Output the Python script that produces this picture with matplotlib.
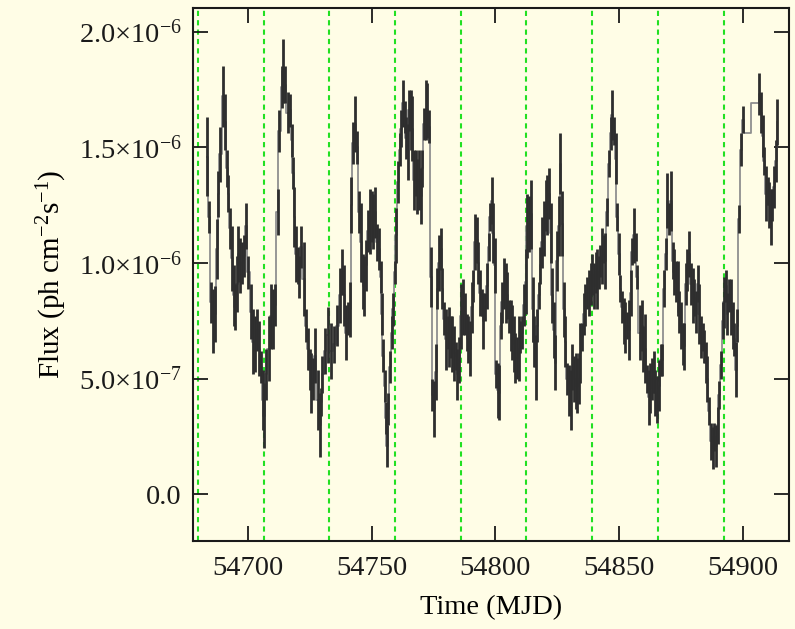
import matplotlib
matplotlib.use("Agg")
import matplotlib.pyplot as plt
import numpy as np

# ---- data (flux in units of 1e-6 ph cm^-2 s^-1) ----
time_mjd = [
    54683.2, 54684.0, 54684.8, 54685.5, 54686.5, 54687.3, 54687.9, 54688.6, 54689.7, 54690.5,
    54691.3, 54691.9, 54692.5, 54693.2, 54694.0, 54694.6, 54695.4, 54696.0, 54696.7, 54697.4,
    54698.1, 54699.0, 54700.0, 54701.0, 54701.9, 54702.7, 54703.5, 54704.3, 54705.1, 54705.8,
    54706.4, 54707.2, 54708.2, 54709.1, 54710.1, 54710.9, 54711.8, 54712.6, 54713.5, 54714.1,
    54714.9, 54715.9, 54716.8, 54717.5, 54718.0, 54718.6, 54719.3, 54719.9, 54720.6, 54721.3,
    54722.4, 54723.3, 54724.1, 54724.9, 54725.5, 54726.1, 54726.8, 54728.0, 54729.0, 54729.5,
    54730.0, 54731.0, 54732.1, 54733.4, 54734.8, 54735.9, 54737.1, 54738.0,
    54738.7, 54739.4, 54740.2, 54741.0, 54741.7, 54742.5, 54743.2, 54744.0, 54744.8, 54745.5,
    54746.2, 54747.0, 54747.8, 54748.5, 54749.3, 54749.9, 54750.6, 54751.3, 54752.0, 54752.8,
    54753.5, 54754.0, 54754.5, 54755.1, 54755.7, 54756.1, 54756.7, 54757.4, 54758.0, 54758.6,
    54759.2, 54759.7, 54760.5, 54761.3, 54761.8, 54762.5, 54763.2, 54763.8, 54764.5, 54765.1,
    54765.7, 54766.4, 54767.1, 54767.7, 54768.4, 54769.1, 54769.8, 54770.4, 54771.1, 54771.8,
    54772.5, 54773.2, 54773.8, 54774.5, 54775.2, 54775.8, 54776.5, 54777.2, 54777.9, 54778.5,
    54779.2, 54779.9, 54780.6, 54781.2, 54781.9, 54782.6, 54783.3, 54784.0, 54784.6, 54785.3,
    54786.0, 54786.9, 54787.6, 54788.3, 54788.9, 54789.7, 54790.4, 54791.1, 54791.8, 54792.5,
    54793.1, 54793.8, 54794.5, 54795.1, 54795.8, 54796.5, 54797.2, 54797.9, 54798.5,
    54799.1, 54799.7, 54800.3, 54800.9, 54801.5, 54802.1, 54802.7, 54803.4, 54804.1, 54804.7,
    54805.4, 54806.1, 54806.8, 54807.4, 54808.1, 54808.8, 54809.5, 54810.1, 54810.8, 54811.5,
    54812.2, 54812.8, 54813.6, 54814.3, 54815.0, 54815.7, 54816.3, 54816.9, 54817.5, 54818.2,
    54818.9, 54819.6, 54820.3, 54820.9, 54821.6, 54822.3, 54823.0, 54823.6, 54824.3, 54825.0,
    54825.7, 54826.3, 54827.0, 54827.7, 54828.3, 54829.0, 54829.7, 54830.4, 54831.0, 54831.7,
    54832.4, 54833.1, 54833.7, 54834.4, 54835.1, 54835.8, 54836.4, 54837.1, 54837.8, 54838.5,
    54839.1, 54839.8, 54840.5, 54841.2, 54841.9, 54842.5, 54843.2, 54843.9, 54844.5, 54845.2,
    54845.9, 54846.6, 54847.2, 54847.9, 54848.6, 54849.3, 54850.0, 54850.6, 54851.3, 54852.0,
    54852.6, 54853.3, 54854.0, 54854.7, 54855.4, 54856.0, 54856.7, 54857.4, 54858.3,
    54859.2, 54859.9, 54860.6, 54861.4, 54862.1, 54862.7, 54863.4, 54864.0, 54864.6, 54865.3,
    54866.0, 54866.8, 54867.6, 54868.3, 54869.0, 54869.6, 54870.3, 54871.0, 54871.7, 54872.3,
    54873.0, 54873.7, 54874.4, 54875.0, 54875.7, 54876.4, 54877.1, 54877.7, 54878.4, 54879.1,
    54879.8, 54880.4, 54881.1, 54881.8, 54882.5, 54883.1, 54883.8, 54884.5, 54885.2, 54885.8,
    54886.5, 54887.2, 54887.9, 54888.5, 54889.2, 54889.9, 54890.6, 54891.2, 54891.9, 54892.6,
    54893.2, 54893.9, 54894.6, 54895.3, 54896.0, 54896.6, 54897.3, 54897.9, 54898.6, 54899.3,
    54900.0, 54900.8, 54906.2, 54906.8, 54907.4, 54908.1, 54908.8, 54909.4, 54910.1, 54910.8,
    54911.5, 54912.1, 54912.8, 54913.5, 54914.0,
]
flux = [
    1.46, 1.20, 0.83, 0.75, 0.78, 1.06, 1.30, 1.47, 1.72, 1.61,
    1.41, 1.30, 1.15, 1.02, 0.86, 0.81, 0.91, 1.04, 0.99, 1.00,
    1.03, 1.16, 0.96, 0.79, 0.66, 0.65, 0.71, 0.63, 0.55, 0.41,
    0.34, 0.52, 0.63, 0.77, 0.76, 0.82, 1.22, 1.57, 1.76, 1.83,
    1.77, 1.65, 1.66, 1.53, 1.39, 1.20, 1.04, 0.99, 0.94, 1.07,
    0.93, 0.73, 0.63, 0.54, 0.48, 0.50, 0.60, 0.41, 0.30, 0.40,
    0.52, 0.62, 0.69, 0.62, 0.65, 0.73, 0.86, 0.96,
    0.86, 0.70, 0.76, 0.80, 1.25, 1.52, 1.60, 1.50, 1.22, 1.09,
    0.92, 0.90, 0.99, 1.14, 1.18, 1.20, 1.18, 1.22, 1.09, 1.06,
    0.94, 0.78, 0.60, 0.47, 0.33, 0.21, 0.37, 0.55, 0.70, 0.80,
    0.96, 1.12, 1.35, 1.49, 1.58, 1.69, 1.63, 1.54, 1.48, 1.66,
    1.62, 1.58, 1.36, 1.39, 1.33, 1.36, 1.29, 1.41, 1.60, 1.66,
    1.66, 1.59, 0.94, 0.43, 0.37, 0.53, 0.89, 1.00, 1.06, 0.89,
    0.76, 0.67, 0.70, 0.68, 0.68, 0.65, 0.61, 0.60, 0.52, 0.58,
    0.77, 0.81, 0.78, 0.70, 0.67, 0.63, 0.81, 0.90, 1.09, 1.10,
    1.00, 0.87, 0.83, 0.75, 0.81, 0.90, 1.07, 1.20, 1.27,
    1.13, 0.99, 0.52, 0.45, 0.44, 0.73, 0.83, 0.91, 0.87, 0.86,
    0.77, 0.73, 0.70, 0.65, 0.59, 0.59, 0.63, 0.68, 0.70, 0.82,
    0.92, 1.16, 1.17, 1.21, 0.80, 0.66, 0.55, 0.73, 0.86, 0.99,
    1.09, 1.15, 1.25, 1.25, 1.30, 1.13, 0.86, 0.71, 0.57, 1.01,
    1.16, 1.43, 1.17, 0.80, 0.66, 0.50, 0.45, 0.41, 0.55, 0.50,
    0.49, 0.47, 0.50, 0.61, 0.68, 0.78, 0.82, 0.87, 0.87, 0.91,
    0.95, 0.90, 0.96, 0.93, 0.96, 1.01, 1.03, 1.06, 1.01, 1.22,
    1.43, 1.56, 1.64, 1.57, 1.45, 1.20, 1.04, 0.89, 0.81, 0.75,
    0.72, 0.73, 0.71, 0.87, 1.05, 1.12, 1.07, 0.94, 0.70,
    0.73, 0.63, 0.63, 0.50, 0.42, 0.46, 0.50, 0.53, 0.44, 0.41,
    0.47, 0.58, 0.58, 0.89, 1.04, 1.27, 1.19, 1.27, 1.01, 0.96,
    0.92, 0.89, 0.79, 0.73, 0.65, 0.64, 0.91, 0.97, 1.04, 0.91,
    0.86, 0.85, 0.79, 0.91, 0.78, 0.68, 0.68, 0.64, 0.57, 0.50,
    0.36, 0.23, 0.20, 0.25, 0.21, 0.30, 0.43, 0.56, 0.75, 0.83,
    0.90, 0.78, 0.86, 0.81, 0.73, 0.67, 0.54, 0.73, 1.19, 1.49,
    1.62, 1.56, 1.69, 1.73, 1.65, 1.55, 1.44, 1.30, 1.31, 1.25,
    1.20, 1.25, 1.33, 1.44, 1.61,
]
flux_err = [
    0.17, 0.07, 0.09, 0.14, 0.12, 0.13, 0.10, 0.12, 0.13, 0.12,
    0.08, 0.08, 0.09, 0.14, 0.13, 0.10, 0.12, 0.12, 0.12, 0.09,
    0.09, 0.10, 0.07, 0.12, 0.14, 0.12, 0.09, 0.12, 0.07, 0.13,
    0.14, 0.11, 0.14, 0.14, 0.13, 0.09, 0.10, 0.09, 0.09, 0.14,
    0.08, 0.09, 0.07, 0.07, 0.07, 0.13, 0.12, 0.08, 0.09, 0.09,
    0.16, 0.07, 0.09, 0.09, 0.13, 0.09, 0.12, 0.13, 0.14, 0.06,
    0.08, 0.10, 0.12, 0.12, 0.08, 0.09, 0.12, 0.10,
    0.13, 0.12, 0.07, 0.12, 0.12, 0.09, 0.12, 0.07, 0.09, 0.17,
    0.12, 0.13, 0.11, 0.09, 0.14, 0.11, 0.12, 0.11, 0.08, 0.09,
    0.07, 0.09, 0.07, 0.07, 0.07, 0.09, 0.07, 0.07, 0.07, 0.07,
    0.05, 0.12, 0.09, 0.07, 0.08, 0.10, 0.07, 0.09, 0.12, 0.09,
    0.13, 0.14, 0.13, 0.10, 0.12, 0.13, 0.12, 0.08, 0.07, 0.13,
    0.12, 0.07, 0.13, 0.07, 0.12, 0.12, 0.09, 0.12, 0.09, 0.09,
    0.07, 0.13, 0.07, 0.13, 0.09, 0.12, 0.12, 0.06, 0.11, 0.10,
    0.14, 0.12, 0.09, 0.08, 0.10, 0.12, 0.11, 0.07, 0.12, 0.10,
    0.09, 0.10, 0.06, 0.12, 0.06, 0.10, 0.06, 0.06, 0.10,
    0.13, 0.12, 0.06, 0.12, 0.12, 0.06, 0.09, 0.11, 0.13, 0.10,
    0.07, 0.11, 0.12, 0.12, 0.11, 0.09, 0.14, 0.07, 0.07, 0.09,
    0.14, 0.14, 0.12, 0.15, 0.14, 0.11, 0.14, 0.07, 0.06, 0.08,
    0.11, 0.12, 0.11, 0.13, 0.11, 0.13, 0.12, 0.12, 0.12, 0.13,
    0.13, 0.13, 0.14, 0.12, 0.11, 0.07, 0.11, 0.13, 0.10, 0.10,
    0.12, 0.12, 0.11, 0.13, 0.06, 0.09, 0.09, 0.07, 0.10, 0.09,
    0.09, 0.10, 0.09, 0.13, 0.07, 0.07, 0.12, 0.06, 0.12, 0.06,
    0.06, 0.07, 0.11, 0.06, 0.11, 0.06, 0.09, 0.06, 0.07, 0.10,
    0.11, 0.06, 0.13, 0.10, 0.06, 0.12, 0.06, 0.05, 0.12,
    0.11, 0.10, 0.15, 0.06, 0.12, 0.11, 0.09, 0.09, 0.10, 0.10,
    0.11, 0.07, 0.07, 0.08, 0.07, 0.12, 0.07, 0.13, 0.08, 0.10,
    0.09, 0.12, 0.09, 0.10, 0.09, 0.10, 0.09, 0.09, 0.10, 0.09,
    0.12, 0.08, 0.09, 0.08, 0.13, 0.09, 0.06, 0.07, 0.09, 0.10,
    0.06, 0.08, 0.09, 0.06, 0.09, 0.08, 0.06, 0.06, 0.08, 0.11,
    0.07, 0.09, 0.07, 0.12, 0.10, 0.07, 0.12, 0.07, 0.06, 0.07,
    0.06, 0.00, 0.00, 0.09, 0.09, 0.09, 0.06, 0.12, 0.06, 0.10,
    0.12, 0.07, 0.09, 0.09, 0.10,
]
phase_zero_mjd = [54679.7, 54706.2, 54732.8, 54759.5, 54785.9, 54812.4, 54839.1, 54865.8, 54892.3]
ytick_vals = [0.0, 0.5e-6, 1.0e-6, 1.5e-6, 2.0e-6]
ytick_labels = ["0.0", "5.0×10$^{-7}$", "1.0×10$^{-6}$", "1.5×10$^{-6}$", "2.0×10$^{-6}$"]
xtick_vals = [54700, 54750, 54800, 54850, 54900]

# ---- style ----
plt.rcParams["font.family"] = ["Liberation Serif", "DejaVu Serif"]
plt.rcParams["mathtext.fontset"] = "custom"
plt.rcParams["mathtext.rm"] = "Liberation Serif"
plt.rcParams["mathtext.it"] = "Liberation Serif:italic"
plt.rcParams["mathtext.bf"] = "Liberation Serif:bold"

bg = "#fffde6"
fig = plt.figure(figsize=(7.95, 6.29), dpi=100, facecolor=bg)
ax = fig.add_axes([193 / 795, 1 - 541 / 629, (789 - 193) / 795, (541 - 8.3) / 629])
ax.set_facecolor(bg)

t = np.array(time_mjd)
f = np.array(flux) * 1e-6
e = np.array(flux_err) * 1e-6

for x0 in phase_zero_mjd:
    ax.axvline(x0, color="#22e022", lw=1.5, linestyle=(0, (2.5, 2.0)), zorder=1)

ax.step(t, f, where="mid", color="#8f8f8f", lw=1.3, zorder=2)
ax.errorbar(t, f, yerr=e, fmt="none", ecolor="#2e2e2e", elinewidth=2.0, capsize=0, zorder=3)

ax.set_xlim(54677.6, 54918.8)
ax.set_ylim(-0.201e-6, 2.101e-6)
ax.set_xticks(xtick_vals)
ax.set_xticklabels([str(v) for v in xtick_vals])
ax.set_yticks(ytick_vals)
ax.set_yticklabels(ytick_labels)
ax.tick_params(direction="in", length=11, width=1.3, top=True, right=True,
               labelsize=20.5, colors="#1a1a1a")
ax.tick_params(axis="x", pad=11)
ax.tick_params(axis="y", pad=8)
ax.minorticks_off()
for s in ax.spines.values():
    s.set_linewidth(1.5)
    s.set_color("#1a1a1a")

ax.set_xlabel("Time (MJD)", fontsize=20.5, labelpad=10)
ax.set_ylabel("Flux (ph cm$^{-2}$s$^{-1}$)", fontsize=21, labelpad=7)

fig.savefig("out.png", dpi=100, facecolor=bg)
